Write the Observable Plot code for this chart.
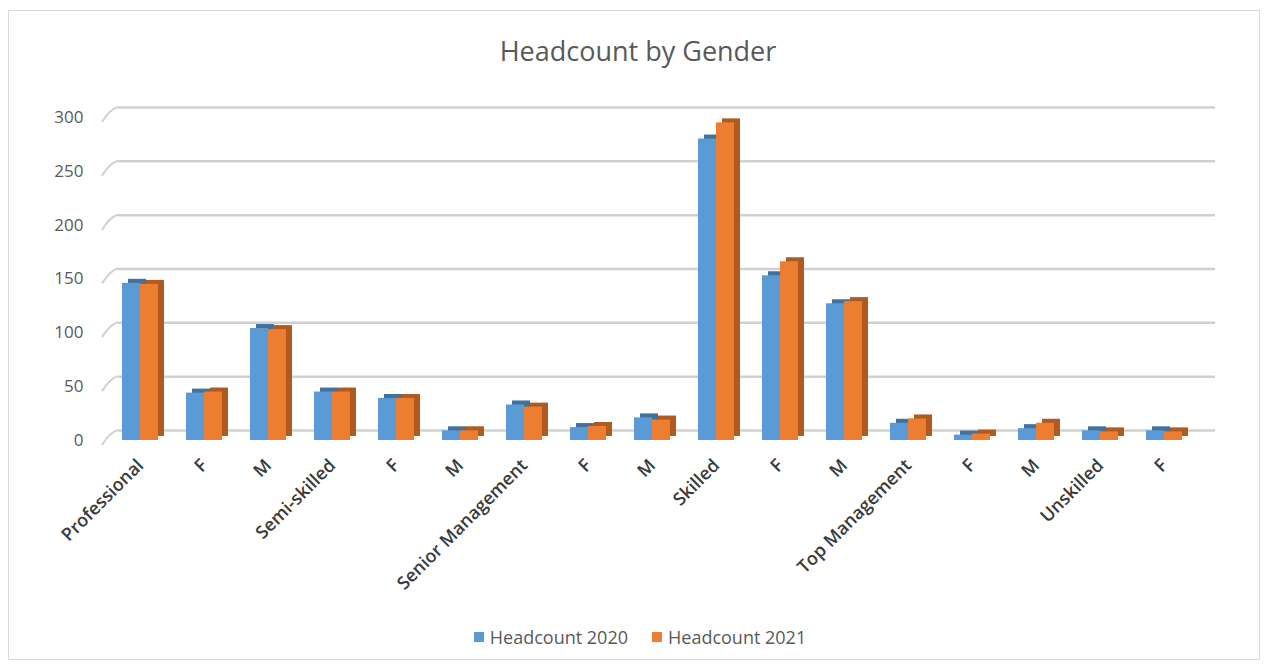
<!DOCTYPE html>
<html>
<head>
<meta charset="utf-8">
<script src="https://cdn.jsdelivr.net/npm/d3@7"></script>
<script src="https://cdn.jsdelivr.net/npm/@observablehq/plot@0.6"></script>
<style>
  html, body { margin: 0; padding: 0; background: #fff; }
  body { width: 1266px; height: 666px; position: relative; overflow: hidden; font-family: "Open Sans", sans-serif; }
  #frame { position: absolute; left: 8px; top: 10px; width: 1252px; height: 650px; border: 1px solid #d9d9d9; box-sizing: border-box; }
  #title { position: absolute; left: 0; width: 1276px; top: 32px; text-align: center; font-size: 27px; color: #595959; }
  #chart { position: absolute; left: 0; top: 80px; }
  #legend { position: absolute; left: 0; width: 1280px; top: 623px; text-align: center; font-size: 18px; color: #595959; }
  #legend span.item { display: inline-flex; align-items: center; margin: 0 12px; }
  #legend span.sw { display: inline-block; width: 10px; height: 10px; margin-right: 6px; }
</style>
</head>
<body>
<div id="frame"></div>
<div id="title">Headcount by Gender</div>
<div id="chart"></div>
<div id="legend"></div>
<script>
const labels = ["Professional","F","M","Semi-skilled","F","M","Senior Management","F","M","Skilled","F","M","Top Management","F","M","Unskilled","F"];
const hc2020 = [146,44,104,45,39,9,33,12,21,280,153,127,16,5,11,9,9];
const hc2021 = [145,45,103,45,39,9,31,13,19,295,166,129,20,6,16,8,8];
const yTicks = [0,50,100,150,200,250,300];
const seriesNames = ["Headcount 2020","Headcount 2021"];
const colors = ["#5B9BD5","#ED7D31"];
const sideColors = ["#41719C","#AE5A21"];

const idx = labels.map((_, i) => i);
const d20 = idx.map(i => ({i, v: hc2020[i]}));
const d21 = idx.map(i => ({i, v: hc2021[i]}));

function diagonals(index, scales, values, dims) {
  const g = d3.create("svg:g").attr("stroke", "#d0d0d0").attr("stroke-width", 2).attr("fill", "none");
  for (const t of yTicks) {
    const yy = scales.y(t);
    g.append("path").attr("d", `M${dims.marginLeft - 6},${yy + 5} Q${dims.marginLeft + 2},${yy - 8} ${dims.marginLeft + 10},${yy - 10}`);
  }
  return g.node();
}

const chart = Plot.plot({
  width: 1266,
  height: 520,
  marginTop: 37,
  marginBottom: 160,
  marginLeft: 108,
  marginRight: 70,
  style: {fontFamily: "Open Sans, sans-serif", background: "transparent"},
  x: {domain: idx, padding: 0, label: null, tickFormat: i => labels[i], tickRotate: -45, tickSize: 0, tickPadding: 22},
  y: {domain: [0, 300], ticks: yTicks, label: null, tickSize: 0, tickPadding: 25},
  marks: [
    Plot.ruleY(yTicks, {insetLeft: 10, insetRight: -19, dy: -10, stroke: "#d0d0d0", strokeWidth: 2.5}),
    diagonals,
    Plot.barY(d20, {x: "i", y: "v", fill: sideColors[0], insetLeft: 14, insetRight: 32, dx: 6, dy: -4}),
    Plot.barY(d21, {x: "i", y: "v", fill: sideColors[1], insetLeft: 32, insetRight: 14, dx: 6, dy: -4}),
    Plot.barY(d20, {x: "i", y: "v", fill: colors[0], insetLeft: 14, insetRight: 32}),
    Plot.barY(d21, {x: "i", y: "v", fill: colors[1], insetLeft: 32, insetRight: 14}),
    Plot.axisY({ticks: yTicks, tickSize: 0, tickPadding: 25, fontSize: 17, fill: "#595959", label: null}),
    Plot.axisX({tickFormat: i => labels[i], tickRotate: -45, tickSize: 0, tickPadding: 22, fontSize: 18, fontWeight: 600, fill: "#3a3a3a", label: null})
  ]
});
document.getElementById("chart").appendChild(chart);

const legend = document.getElementById("legend");
seriesNames.forEach((name, k) => {
  const item = document.createElement("span");
  item.className = "item";
  const sw = document.createElement("span");
  sw.className = "sw";
  sw.style.background = colors[k];
  item.appendChild(sw);
  item.appendChild(document.createTextNode(name));
  legend.appendChild(item);
});
</script>
</body>
</html>
